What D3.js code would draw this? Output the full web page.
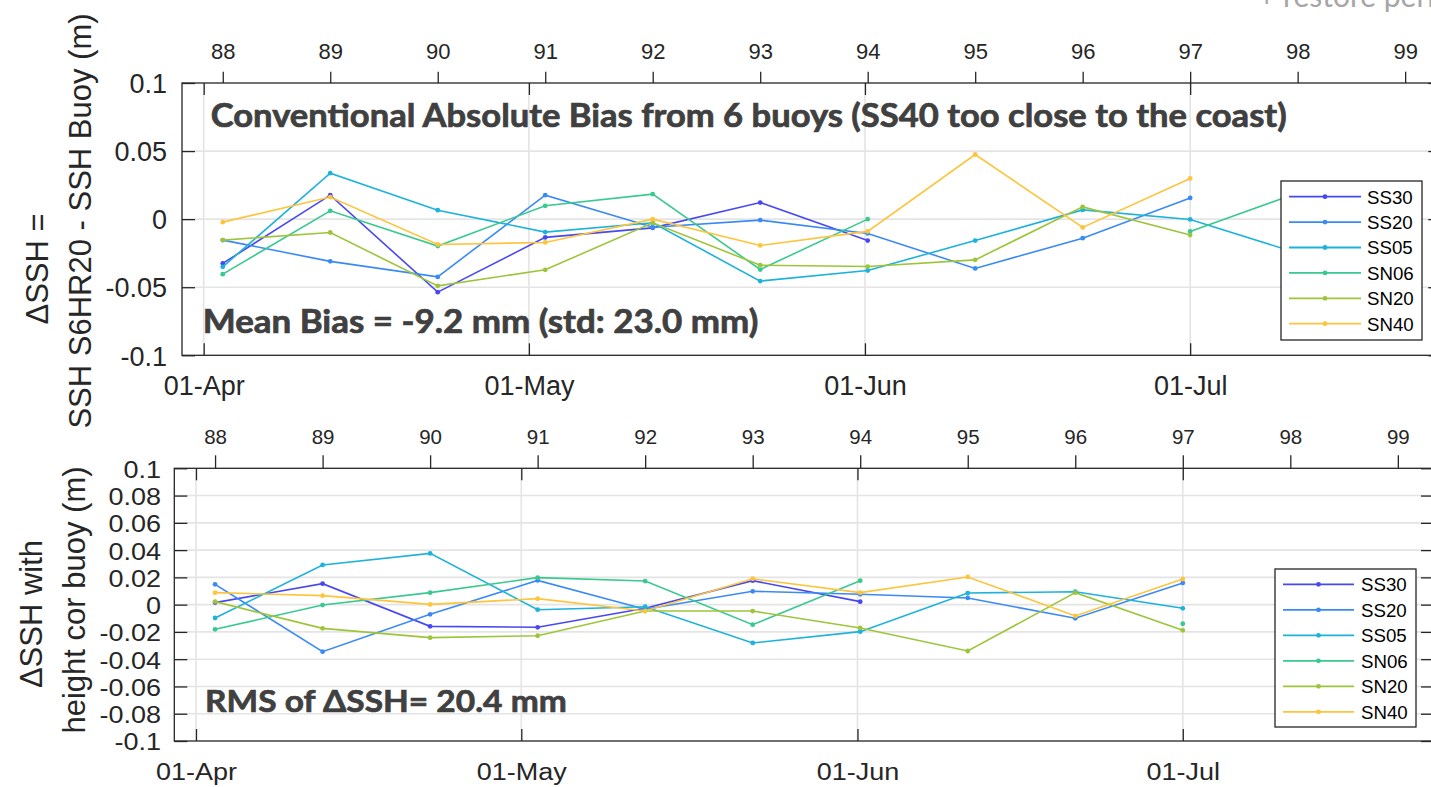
<!DOCTYPE html>
<html><head><meta charset="utf-8">
<script src="https://cdn.jsdelivr.net/npm/d3@7"></script>
<style>body{margin:0;background:#fff;} svg{display:block;}</style>
</head><body>
<svg id="c" width="1431" height="787"></svg>
<script>
// ---------- DATA ----------
const cycles = [88, 89, 90, 91, 92, 93, 94, 95, 96, 97, 98];
const cycleTicks = [88, 89, 90, 91, 92, 93, 94, 95, 96, 97, 98, 99];
const seriesNames = ["SS30", "SS20", "SS05", "SN06", "SN20", "SN40"];
const seriesColors = ["#4848f0", "#3a8af5", "#1db2dc", "#38c98f", "#9dc53a", "#fdc43c"];

// Top panel: conventional absolute bias (m)
const biasSS30 = [-0.0325, 0.0176, -0.0536, -0.0134, -0.0064, 0.0122, -0.0157, null, null, null, null];
const biasSS20 = [-0.0154, -0.0310, -0.0424, 0.0176, -0.0059, -0.0007, -0.0105, -0.0362, -0.0140, 0.0156, null];
const biasSS05 = [-0.0350, 0.0338, 0.0066, -0.0095, -0.0027, -0.0455, -0.0377, -0.0157, 0.0068, -0.0002, -0.0250];
const biasSN06 = [-0.0404, 0.0061, -0.0198, 0.0098, 0.0184, -0.0370, 0.0000, null, null, -0.0090, 0.0192];
const biasSN20 = [-0.0154, -0.0098, -0.0490, -0.0372, -0.0027, -0.0338, -0.0348, -0.0299, 0.0090, -0.0117, null];
const biasSN40 = [-0.0022, 0.0162, -0.0186, -0.0171, 0.0000, -0.0193, -0.0090, 0.0475, -0.0061, 0.0299, null];

// Bottom panel: dSSH with height-corrected buoy (m)
const corSS30 = [0.0015, 0.0154, -0.0159, -0.0166, -0.0027, 0.0176, 0.0022, null, null, null, null];
const corSS20 = [0.0149, -0.0345, -0.0071, 0.0178, -0.0034, 0.0098, 0.0076, 0.0049, -0.0100, 0.0159, null];
const corSS05 = [-0.0098, 0.0291, 0.0376, -0.0037, -0.0015, -0.0281, -0.0198, 0.0085, 0.0095, -0.0027, null];
const corSN06 = [-0.0181, -0.0003, 0.0088, 0.0198, 0.0173, -0.0147, 0.0176, null, null, -0.0140, null];
const corSN20 = [0.0022, -0.0174, -0.0242, -0.0228, -0.0047, -0.0047, -0.0171, -0.0340, 0.0088, -0.0188, null];
const corSN40 = [0.0088, 0.0066, 0.0002, 0.0044, -0.0047, 0.0190, 0.0088, 0.0203, -0.0083, 0.0188, null];

const dateTicks = ["2022-04-01", "2022-05-01", "2022-06-01", "2022-07-01"];
const dateTickLabels = ["01-Apr", "01-May", "01-Jun", "01-Jul"];
const topYTicks = [0.1, 0.05, 0, -0.05, -0.1];
const topYTickLabels = ["0.1", "0.05", "0", "-0.05", "-0.1"];
const botYTicks = [0.1, 0.08, 0.06, 0.04, 0.02, 0, -0.02, -0.04, -0.06, -0.08, -0.1];
const botYTickLabels = ["0.1", "0.08", "0.06", "0.04", "0.02", "0", "-0.02", "-0.04", "-0.06", "-0.08", "-0.1"];

// cycle -> date (cycle 97 starts 01-Jul, repeat cycle ~9.9156 days)
const refCycle = 97, refCycleDate = "2022-07-01", cycleDays = 9.9156;
const DAY = 86400000;
const cycleDate = c => new Date(Date.parse(refCycleDate + "T00:00:00Z") + (c - refCycle) * cycleDays * DAY);
const xDomain = [new Date(Date.parse("2022-03-30T00:00:00Z")), new Date(Date.parse("2022-07-24T04:00:00Z"))];

const svg = d3.select("#c");
svg.append("rect").attr("width", 1431).attr("height", 787).attr("fill", "#fff");

const AXC = "#262626", GRID = "#e4e4e4";
const tickFont = "'Liberation Sans', Arial, Helvetica, sans-serif";
const annFont = "Lato, Carlito, 'Open Sans', sans-serif";

function panel(cfg) {
  const g = svg.append("g");
  const x = d3.scaleUtc().domain(xDomain).range([cfg.left, cfg.right]);
  const y = d3.scaleLinear().domain([-0.1, 0.1]).range([cfg.bottom, cfg.top]);
  const dates = dateTicks.map(d => new Date(Date.parse(d + "T00:00:00Z")));
  const vs = cfg.vScale;

  // grid
  g.append("g").selectAll("line.h").data(cfg.yTicks.filter(v => Math.abs(v) < 0.0999))
    .join("line").attr("x1", cfg.left).attr("x2", cfg.right)
    .attr("y1", d => y(d)).attr("y2", d => y(d))
    .attr("stroke", GRID).attr("stroke-width", 1.6);
  g.append("g").selectAll("line.v").data(dates)
    .join("line").attr("y1", cfg.top).attr("y2", cfg.bottom)
    .attr("x1", d => x(d)).attr("x2", d => x(d))
    .attr("stroke", GRID).attr("stroke-width", 1.6);

  // left y axis
  const ya = g.append("g").attr("transform", `translate(${cfg.left},0)`)
    .call(d3.axisLeft(y).tickValues(cfg.yTicks).tickFormat((d, i) => cfg.yLabels[i])
      .tickSizeInner(-cfg.yTickLen).tickSizeOuter(0).tickPadding(cfg.yPad));
  ya.select(".domain").remove();
  ya.selectAll("line").attr("stroke", AXC).attr("stroke-width", 1.3);
  ya.selectAll("text").attr("font-family", tickFont).attr("font-size", cfg.yFont)
    .attr("fill", AXC).attr("dy", "0.36em").attr("transform", `scale(1,${vs})`);

  // right y axis (mirror ticks)
  const yr = g.append("g").attr("transform", `translate(${cfg.right},0)`)
    .call(d3.axisRight(y).tickValues(cfg.yTicks).tickFormat("")
      .tickSizeInner(-cfg.yTickLen).tickSizeOuter(0));
  yr.select(".domain").remove();
  yr.selectAll("line").attr("stroke", AXC).attr("stroke-width", 1.3);

  // bottom date axis
  const xb = g.append("g").attr("transform", `translate(0,${cfg.bottom})`)
    .call(d3.axisBottom(x).tickValues(dates).tickFormat((d, i) => dateTickLabels[i])
      .tickSizeInner(-cfg.xTickLen).tickSizeOuter(0).tickPadding(0));
  xb.select(".domain").remove();
  xb.selectAll("line").attr("stroke", AXC).attr("stroke-width", 1.3);
  xb.selectAll("text").attr("font-family", tickFont).attr("font-size", cfg.dateFont)
    .attr("fill", AXC).attr("dy", null).attr("y", (cfg.dateBase - cfg.bottom) / vs)
    .attr("transform", `scale(1,${vs})`);

  // top date mirror ticks
  const xt = g.append("g").attr("transform", `translate(0,${cfg.top})`)
    .call(d3.axisTop(x).tickValues(dates).tickFormat("")
      .tickSizeInner(-cfg.xTickLen).tickSizeOuter(0));
  xt.select(".domain").remove();
  xt.selectAll("line").attr("stroke", AXC).attr("stroke-width", 1.3);

  // top cycle axis
  const xc = g.append("g").attr("transform", `translate(0,${cfg.top})`)
    .call(d3.axisTop(x).tickValues(cycleTicks.map(cycleDate)).tickFormat((d, i) => String(cycleTicks[i]))
      .tickSizeInner(cfg.cycTickLen).tickSizeOuter(0).tickPadding(cfg.top - cfg.cycTickLen - cfg.cycBase));
  xc.select(".domain").remove();
  xc.selectAll("line").attr("stroke", AXC).attr("stroke-width", 1.3);
  xc.selectAll("text").attr("font-family", tickFont).attr("font-size", cfg.cycFont).attr("fill", AXC);

  // box
  g.append("rect").attr("x", cfg.left).attr("y", cfg.top)
    .attr("width", cfg.right - cfg.left).attr("height", cfg.bottom - cfg.top)
    .attr("fill", "none").attr("stroke", AXC).attr("stroke-width", 1.3);

  // series
  const line = d3.line().defined(d => d.v !== null).x(d => x(cycleDate(d.c))).y(d => y(d.v));
  cfg.series.forEach((vals, si) => {
    const pts = cycles.map((c, i) => ({ c: c, v: vals[i] }));
    g.append("path").datum(pts).attr("d", line).attr("fill", "none")
      .attr("stroke", seriesColors[si]).attr("stroke-width", 1.6);
    g.append("g").selectAll("circle").data(pts.filter(d => d.v !== null)).join("circle")
      .attr("cx", d => x(cycleDate(d.c))).attr("cy", d => y(d.v)).attr("r", 2.4)
      .attr("fill", seriesColors[si]);
  });

  // annotations
  cfg.notes.forEach(n => {
    g.append("text").attr("x", n.x).attr("y", n.y).text(n.t)
      .attr("font-family", annFont).attr("font-weight", 700).attr("font-size", n.fs)
      .attr("fill", "#404040").attr("stroke", "#404040").attr("stroke-width", 0.7)
      .attr("textLength", n.w).attr("lengthAdjust", "spacingAndGlyphs");
  });

  // legend
  const L = cfg.legend;
  const lg = g.append("g");
  lg.append("rect").attr("x", L.x).attr("y", L.y).attr("width", L.w).attr("height", L.h)
    .attr("fill", "#fff").attr("stroke", AXC).attr("stroke-width", 1.3);
  seriesNames.forEach((nm, i) => {
    const ry = L.row0 + i * L.dy;
    lg.append("line").attr("x1", L.lx1).attr("x2", L.lx2).attr("y1", ry).attr("y2", ry)
      .attr("stroke", seriesColors[i]).attr("stroke-width", 1.8);
    lg.append("circle").attr("cx", (L.lx1 + L.lx2) / 2).attr("cy", ry).attr("r", 2.4).attr("fill", seriesColors[i]);
    lg.append("text").attr("x", L.tx).attr("y", ry + 6.8).text(nm)
      .attr("font-family", tickFont).attr("font-size", 18.7).attr("fill", "#000");
  });

  // y label
  cfg.ylab.forEach(l => {
    g.append("text").attr("transform", `translate(${l.x},${l.y}) rotate(-90)`)
      .attr("text-anchor", "middle").text(l.t)
      .attr("font-family", tickFont).attr("font-size", 31).attr("fill", AXC);
  });
}

panel({
  left: 182, right: 1441.3, top: 83, bottom: 355.3, vScale: 1,
  yTicks: topYTicks, yLabels: topYTickLabels, yTickLen: 13, yPad: 15, yFont: 27,
  xTickLen: 12, dateFont: 27, dateBase: 395.2,
  cycTickLen: 11.3, cycBase: 58.5, cycFont: 22,
  series: [biasSS30, biasSS20, biasSS05, biasSN06, biasSN20, biasSN40],
  notes: [
    { t: "Conventional Absolute Bias from 6 buoys (SS40 too close to the coast)", x: 210.7, y: 126.7, w: 1076, fs: 32 },
    { t: "Mean Bias = -9.2 mm (std: 23.0 mm)", x: 202.7, y: 333.3, w: 555.6, fs: 32 }
  ],
  legend: { x: 1281, y: 181, w: 141, h: 159, row0: 196.7, dy: 25.4, lx1: 1289, lx2: 1361, tx: 1367 },
  ylab: [{ t: "\u0394SSH =", x: 48.3, y: 269 }, { t: "SSH S6HR20 - SSH Buoy (m)", x: 90.7, y: 221 }]
});

panel({
  left: 174.3, right: 1434, top: 468.3, bottom: 741, vScale: 0.92,
  yTicks: botYTicks, yLabels: botYTickLabels, yTickLen: 13, yPad: 13.3, yFont: 27,
  xTickLen: 12, dateFont: 27, dateBase: 780.5,
  cycTickLen: 13, cycBase: 443.5, cycFont: 20.5,
  series: [corSS30, corSS20, corSS05, corSN06, corSN20, corSN40],
  notes: [
    { t: "RMS of \u0394SSH= 20.4 mm", x: 205, y: 712.3, w: 361.7, fs: 31 }
  ],
  legend: { x: 1275, y: 569, w: 141, h: 158, row0: 584.3, dy: 25.5, lx1: 1283, lx2: 1354, tx: 1361 },
  ylab: [{ t: "\u0394SSH with", x: 41.7, y: 614 }, { t: "height cor buoy (m)", x: 85, y: 600 }]
});

// cut-off slide text at top right (partly outside the slide crop, as in the reference)
svg.append("text").attr("x", 1258).attr("y", 7).text("+ restore period")
  .attr("font-family", annFont).attr("font-size", 30).attr("fill", "#a6a6a6");
</script>
</body></html>
